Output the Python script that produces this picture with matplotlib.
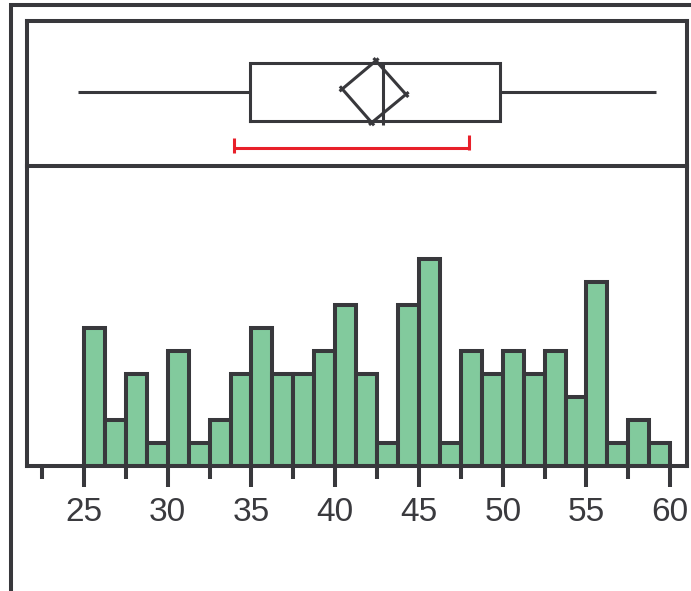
import matplotlib
matplotlib.use("Agg")
import matplotlib.pyplot as plt
from matplotlib.lines import Line2D

# ---- data ----
bin_start = 25.0
bin_width = 1.25
counts = [6, 2, 4, 1, 5, 1, 2, 4, 6, 4, 4, 5, 7, 4, 1, 7, 9, 1, 5, 4, 5, 4, 5, 3, 8, 1, 2, 1]
tick_values = [25, 30, 35, 40, 45, 50, 55, 60]
minor_tick_values = [22.5, 27.5, 32.5, 37.5, 42.5, 47.5, 52.5, 57.5]

whisker_lo, whisker_hi = 24.67, 59.15
q1, median, q3 = 34.91, 42.83, 49.86
mean_top_x, mean_bot_x = 42.43, 42.18
ci_lo, ci_hi = 40.42, 44.22
shortest_half = (33.96, 47.99)

# ---- style ----
W, H = 691, 591
DARK = "#38383c"
GREEN = "#82ca9d"
RED = "#e8202a"
LW = 2.9
BLW = 2.2
plt.rcParams['font.family'] = ['Liberation Sans', 'DejaVu Sans']

fig = plt.figure(figsize=(W / 100, H / 100), dpi=100)

def fx(px):
    return px / W

def fy(py):
    return 1 - py / H

left_px, right_px = 27, 687
top_px, mid_px, base_px = 21, 166, 466
xlim = (21.6, 61.0)

# histogram axes
axh = fig.add_axes([fx(left_px), fy(base_px), fx(right_px - left_px), (base_px - mid_px) / H])
edges = [bin_start + i * bin_width for i in range(len(counts))]
axh.bar(edges, counts, width=bin_width, align='edge', color=GREEN,
        edgecolor=DARK, linewidth=LW, zorder=2)
axh.set_xlim(*xlim)
axh.set_ylim(0, 300 / 23.0)
axh.set_yticks([])
for s in ['top']:
    axh.spines[s].set_visible(False)
for s in ['left', 'right', 'bottom']:
    axh.spines[s].set_linewidth(LW)
    axh.spines[s].set_color(DARK)
    axh.spines[s].set_zorder(3)
axh.set_xticks(tick_values)
axh.set_xticklabels([str(v) for v in tick_values])
axh.set_xticks(minor_tick_values, minor=True)
axh.tick_params(axis='x', which='major', length=15, width=LW, color=DARK,
                labelsize=24, labelcolor="#3a3a3e", pad=7)
axh.tick_params(axis='x', which='minor', length=9.5, width=LW, color=DARK)

# box plot axes
axb = fig.add_axes([fx(left_px), fy(mid_px), fx(right_px - left_px), (mid_px - top_px) / H])
axb.set_xlim(*xlim)
axb.set_ylim(0, 1)
axb.set_xticks([])
axb.set_yticks([])
for s in ['left', 'right', 'bottom', 'top']:
    axb.spines[s].set_linewidth(LW)
    axb.spines[s].set_color(DARK)

yc, yb0, yb1 = 0.51, 0.31, 0.71
axb.plot([whisker_lo, q1], [yc, yc], color=DARK, lw=BLW, solid_capstyle='butt')
axb.plot([q3, whisker_hi], [yc, yc], color=DARK, lw=BLW, solid_capstyle='butt')
axb.plot([q1, q3, q3, q1, q1], [yb0, yb0, yb1, yb1, yb0], color=DARK, lw=BLW,
         solid_joinstyle='miter')
axb.plot([median, median], [yb0 - 0.03, yb1], color=DARK, lw=BLW, solid_capstyle='butt')

# mean diamond: drawn as four crossing strokes
verts = [(ci_lo, 0.531), (mean_top_x, 0.726), (ci_hi, 0.494), (mean_bot_x, 0.299)]
for i in range(4):
    (x0, y0), (x1, y1) = verts[i], verts[(i + 1) % 4]
    e = 0.08
    xa, ya = x0 - e * (x1 - x0), y0 - e * (y1 - y0)
    xb, yb = x1 + e * (x1 - x0), y1 + e * (y1 - y0)
    axb.plot([xa, xb], [ya, yb], color=DARK, lw=BLW, solid_capstyle='butt')

# shortest half bracket
ry = 0.121
axb.plot(list(shortest_half), [ry, ry], color=RED, lw=BLW, solid_capstyle='butt')
axb.plot([shortest_half[0]] * 2, [0.088, 0.195], color=RED, lw=BLW, solid_capstyle='butt')
axb.plot([shortest_half[1]] * 2, [0.110, 0.214], color=RED, lw=BLW, solid_capstyle='butt')

# outer frame lines
fig.add_artist(Line2D([fx(9), fx(691)], [fy(5), fy(5)], color=DARK, lw=LW,
                      solid_capstyle='butt'))
fig.add_artist(Line2D([fx(11), fx(11)], [fy(3), fy(591)], color=DARK, lw=LW,
                      solid_capstyle='butt'))

fig.savefig("out.png", dpi=100)
